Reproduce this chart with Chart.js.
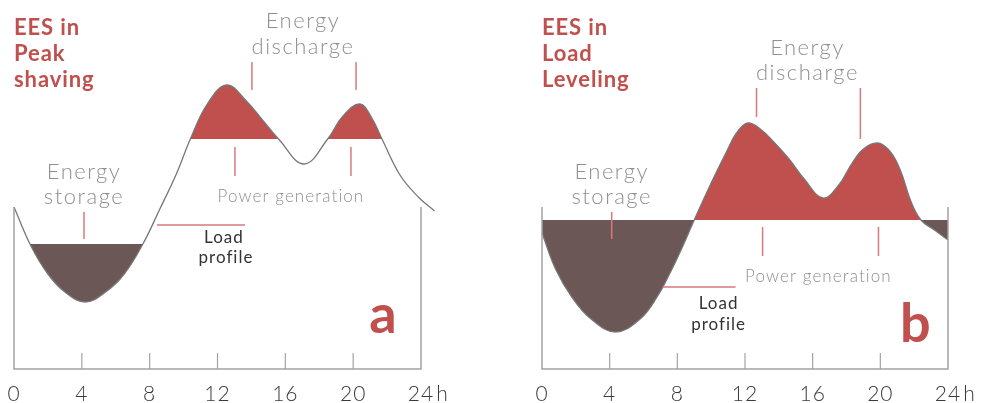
<!DOCTYPE html>
<html>
<head>
<meta charset="utf-8">
<title>EES peak shaving / load leveling</title>
<script src="https://cdn.jsdelivr.net/npm/chart.js@4.4.0/dist/chart.umd.min.js"></script>
<style>
    html, body { margin: 0; padding: 0; background: #fff; }
    #wrap { position: relative; width: 986px; height: 403px; overflow: hidden; }
    #wrap canvas { position: absolute; top: 0; }
</style>
</head>
<body>
<div id="wrap">
    <canvas id="chart-a" width="493" height="403" style="left:0;width:493px;height:403px"></canvas>
    <canvas id="chart-b" width="493" height="403" style="left:493px;width:493px;height:403px"></canvas>
</div>
<script>
// ---- data (hours of the day / load, arbitrary units) ----
const tickHours = [0, 4, 8, 12, 16, 20, 24];
const tickLabels = ['0', '4', '8', '12', '16', '20', '24'];
const hourUnit = 'h';

// a: peak shaving
const hoursA = [0, 1, 2, 3, 4.2, 5.4, 6.5, 7.6, 8.6, 9.6, 10.4, 11.4, 12.55, 13.7, 14.7, 15.6,
    17.1, 18.5, 19.4, 20.4, 21.1, 21.7, 22.76, 23.9, 24.8];
const loadA = [162, 123, 95, 77, 67, 77, 95, 125, 160, 196, 230, 265, 284, 268, 248, 230,
    205, 230, 253, 265, 251, 230, 194, 171, 158];
const dischargeLevelA = 230;   // above -> energy discharge
const storageLevelA = 125;     // below -> energy storage

// b: load leveling
const hoursB = [0, 0.8, 1.8, 2.9, 4.35, 5.8, 6.8, 7.6, 8.3, 9.0, 10.0, 10.9, 11.5, 12.17, 12.9, 13.7,
    14.6, 15.5, 16.6, 17.5, 18.3, 19.0, 19.85, 20.6, 21.2, 21.8, 22.4, 23.2, 24];
const loadB = [136, 100, 71, 50, 37, 50, 72, 97, 122, 149, 186, 217, 236, 246, 240, 227,
    210, 190, 171, 183, 205, 220, 226, 217, 198, 168, 149, 139, 129];
const levelB = 149;

// ---- styles ----
const RED = '#c0504d';
const BROWN = '#6b5856';
const CURVE = '#777777';
const AXIS = '#a3a3a3';
const POINTER = '#d9797b';
const GREY_TEXT = '#8f8f8f';
const DARK_TEXT = '#333333';
const NONE = 'rgba(0,0,0,0)';

function toPoints(hours, load) {
    return hours.map((h, i) => ({ x: h, y: load[i] }));
}

// axes + annotations, placed through the chart's own scales
function overlayPlugin(notes) {
    return {
        id: 'overlay',
        afterDatasetsDraw(chart) {
            const ctx = chart.ctx;
            const xs = chart.scales.x;
            const ys = chart.scales.y;
            const y0 = ys.getPixelForValue(0);
            const left = xs.getPixelForValue(0);
            const right = xs.getPixelForValue(24);
            const top = ys.getPixelForValue(162);

            ctx.save();
            ctx.strokeStyle = AXIS;
            ctx.lineWidth = 1.5;
            ctx.beginPath();
            ctx.moveTo(left, top);
            ctx.lineTo(left, y0);
            ctx.lineTo(right, y0);
            ctx.lineTo(right, top);
            ctx.stroke();

            ctx.lineWidth = 1.2;
            tickHours.slice(1, -1).forEach(h => {
                const px = xs.getPixelForValue(h);
                ctx.beginPath();
                ctx.moveTo(px, y0);
                ctx.lineTo(px, ys.getPixelForValue(16));
                ctx.stroke();
            });

            ctx.fillStyle = '#3a3a3a';
            ctx.font = '300 21px Lato';
            ctx.letterSpacing = '1px';
            ctx.textBaseline = 'alphabetic';
            ctx.textAlign = 'center';
            const ly = ys.getPixelForValue(-32);
            tickHours.forEach((h, i) => {
                ctx.fillText(tickLabels[i], xs.getPixelForValue(h), ly);
            });
            const lastW = ctx.measureText(tickLabels[tickLabels.length - 1]).width;
            ctx.textAlign = 'left';
            ctx.fillText(hourUnit, right + lastW / 2 + 2, ly);

            // pointer lines
            ctx.strokeStyle = POINTER;
            ctx.lineWidth = 1.5;
            notes.lines.forEach(l => {
                ctx.beginPath();
                ctx.moveTo(xs.getPixelForValue(l[0]), ys.getPixelForValue(l[1]));
                ctx.lineTo(xs.getPixelForValue(l[2]), ys.getPixelForValue(l[3]));
                ctx.stroke();
            });

            // texts
            notes.texts.forEach(t => {
                ctx.font = t.font;
                ctx.letterSpacing = t.spacing || '0px';
                ctx.fillStyle = t.color;
                ctx.textAlign = t.align || 'center';
                ctx.fillText(t.text, xs.getPixelForValue(t.x), ys.getPixelForValue(t.y));
            });
            ctx.restore();
        }
    };
}

function makeChart(id, points, fills, padding, notes) {
    const datasets = fills.map((f, i) => ({
        data: points,
        borderColor: i === 0 ? CURVE : NONE,
        borderWidth: i === 0 ? 1.3 : 0,
        pointRadius: 0,
        tension: 0.4,
        clip: false,
        fill: { target: { value: f.level }, above: f.above, below: f.below }
    }));

    return new Chart(document.getElementById(id), {
        type: 'line',
        data: { datasets },
        options: {
            responsive: false,
            animation: false,
            layout: { padding },
            elements: { line: { capBezierPoints: false } },
            plugins: { legend: { display: false }, tooltip: { enabled: false } },
            scales: {
                x: { type: 'linear', min: 0, max: 24, display: false },
                y: { type: 'linear', min: 0, max: 369, display: false }
            }
        },
        plugins: [overlayPlugin(notes)]
    });
}

const titleFont = 'bold 22px Lato';
const bigFont = 'bold 54px Lato';
const greyFont = '300 22px Lato';
const smallGrey = '300 17px Lato';
const loadFont = '17px Lato';

function label(text, x, y, font, color, spacing, align) {
    return { text, x, y, font, color, spacing, align };
}

makeChart('chart-a', toPoints(hoursA, loadA), [
    { level: dischargeLevelA, above: RED, below: NONE },
    { level: storageLevelA, above: NONE, below: BROWN }
], { left: 14, right: 72, top: 0, bottom: 34 }, {
    lines: [
        [14.03, 307, 14.03, 279], [20.17, 307, 20.17, 279],
        [13.03, 222, 13.03, 193], [19.87, 222, 19.87, 193],
        [4.13, 157, 4.13, 130],
        [8.43, 144, 13.62, 144]
    ],
    texts: [
        label('EES in', 0, 334, titleFont, RED, '0.9px', 'left'),
        label('Peak', 0, 308, titleFont, RED, '0.9px', 'left'),
        label('shaving', 0, 282, titleFont, RED, '0.9px', 'left'),
        label('Energy', 17.04, 341, greyFont, GREY_TEXT, '1.5px'),
        label('discharge', 17.04, 315, greyFont, GREY_TEXT, '1.5px'),
        label('Power generation', 16.33, 167, smallGrey, GREY_TEXT, '1.1px'),
        label('Energy', 4.13, 190, greyFont, GREY_TEXT, '1.5px'),
        label('storage', 4.13, 165, greyFont, GREY_TEXT, '1.5px'),
        label('Load', 12.38, 126, loadFont, DARK_TEXT, '1px'),
        label('profile', 12.5, 106, loadFont, DARK_TEXT, '1px'),
        label('a', 21.76, 36, bigFont, RED)
    ]
});

makeChart('chart-b', toPoints(hoursB, loadB), [
    { level: levelB, above: RED, below: BROWN }
], { left: 49, right: 38, top: 0, bottom: 34 }, {
    lines: [
        [12.68, 281, 12.68, 252], [18.82, 281, 18.82, 230],
        [13.04, 142, 13.04, 113], [19.89, 142, 19.89, 113],
        [4.12, 157, 4.12, 130],
        [7.13, 82, 11.44, 82]
    ],
    texts: [
        label('EES in', 0, 334, titleFont, RED, '0.9px', 'left'),
        label('Load', 0, 308, titleFont, RED, '0.9px', 'left'),
        label('Leveling', 0, 282, titleFont, RED, '0.9px', 'left'),
        label('Energy', 15.69, 314, greyFont, GREY_TEXT, '1.5px'),
        label('discharge', 15.69, 289, greyFont, GREY_TEXT, '1.5px'),
        label('Power generation', 16.34, 87, smallGrey, GREY_TEXT, '1.1px'),
        label('Energy', 4.12, 190, greyFont, GREY_TEXT, '1.5px'),
        label('storage', 4.12, 165, greyFont, GREY_TEXT, '1.5px'),
        label('Load', 10.44, 60, loadFont, DARK_TEXT, '1px'),
        label('profile', 10.44, 39, loadFont, DARK_TEXT, '1px'),
        label('b', 22.07, 27, bigFont, RED)
    ]
});
</script>
</body>
</html>
